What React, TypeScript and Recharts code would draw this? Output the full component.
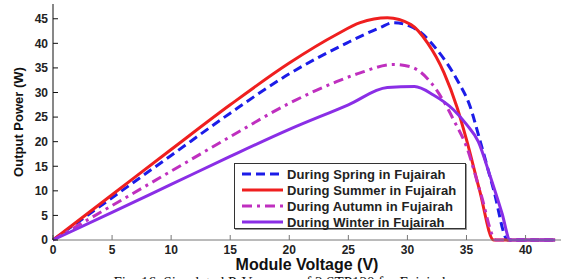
import React from "react";
import { LineChart, Line, XAxis, YAxis, Legend } from "recharts";

// P-V curves (V in volts, P in watts)
const seasons = [
  "During Spring in Fujairah",
  "During Summer in Fujairah",
  "During Autumn in Fujairah",
  "During Winter in Fujairah",
];

const springV = [0, 5, 10, 15, 20, 24.9, 27.7, 28.8, 30.5, 32.5, 34.2, 35.3, 36.1, 37.3, 38.5, 42.5];
const springP = [0, 8.6, 17.2, 25.8, 33.8, 40.1, 43.2, 44.2, 43.2, 38.7, 32.6, 27.2, 20.6, 10.2, 0, 0];

const summerV = [0, 5, 10, 15, 20, 24, 26, 28.3, 30.3, 31.7, 33.1, 34.2, 35.0, 36.1, 37.3, 42.5];
const summerP = [0, 9.2, 18.4, 27.5, 36, 41.8, 44.2, 45.2, 43.8, 40.1, 34, 27, 20.4, 10.2, 0, 0];

const autumnV = [0, 5, 10, 15, 20, 24, 26, 28.8, 30.3, 32, 33, 34, 35, 36.2, 37.5, 42.5];
const autumnP = [0, 7, 14, 21, 27.8, 32.2, 34, 35.7, 35.2, 32, 28.5, 24, 19, 9.5, 0, 0];

const winterV = [0, 5, 10, 15, 20, 25, 28.3, 30.6, 32.2, 33.9, 35, 36, 37, 38, 38.7, 42.5];
const winterP = [0, 5.6, 11.3, 17, 22.5, 27.5, 31, 31.2, 29.5, 26.5, 23.5, 20, 13, 5.5, 0, 0];

const xTicks = [0, 5, 10, 15, 20, 25, 30, 35, 40];
const yTicks = [0, 5, 10, 15, 20, 25, 30, 35, 40, 45];

const toPoints = (v: number[], p: number[]) => v.map((x, i) => ({ v: x, p: p[i] }));

const curves = [
  { name: seasons[0], data: toPoints(springV, springP), color: "#1c1ce8", dash: "9 5" },
  { name: seasons[1], data: toPoints(summerV, summerP), color: "#ef1f1f", dash: undefined },
  { name: seasons[2], data: toPoints(autumnV, autumnP), color: "#bf2fbf", dash: "10 5 3 5" },
  { name: seasons[3], data: toPoints(winterV, winterP), color: "#8a2ee6", dash: undefined },
];

const FONT = "'Liberation Sans', Arial, sans-serif";
const tickStyle = { fill: "#222", fontSize: 12, fontWeight: "bold", fontFamily: FONT };

function SeasonLegend() {
  return (
    <div
      style={{
        width: 232,
        height: 66,
        border: "1px solid #333",
        boxShadow: "1px 1px 0 #999",
        background: "#fff",
        boxSizing: "border-box",
        paddingTop: 2,
      }}
    >
      {curves.map((c) => (
        <div key={c.name} style={{ display: "flex", alignItems: "center", height: 16 }}>
          <svg width={52} height={6} style={{ display: "block" }}>
            <line
              x1={7}
              x2={48}
              y1={3}
              y2={3}
              stroke={c.color}
              strokeWidth={3}
              strokeDasharray={c.dash}
            />
          </svg>
          <span
            style={{
              fontFamily: FONT,
              fontWeight: "bold",
              fontSize: 13,
              letterSpacing: 0.1,
              color: "#222",
              whiteSpace: "nowrap",
            }}
          >
            {c.name}
          </span>
        </div>
      ))}
    </div>
  );
}

export default function App() {
  return (
    <div
      style={{
        position: "absolute",
        left: 0,
        top: 0,
        width: 563,
        height: 279,
        overflow: "hidden",
        background: "#fff",
      }}
    >
      <LineChart width={563} height={279} margin={{ top: 4, right: 2, left: 0, bottom: 0 }}>
        <XAxis
          dataKey="v"
          type="number"
          domain={[0, 43]}
          ticks={xTicks}
          interval={0}
          height={39}
          tickSize={-5}
          tickMargin={10}
          stroke="#777"
          tick={tickStyle}
          label={{
            value: "Module Voltage (V)",
            position: "insideBottom",
            offset: 9,
            style: { fontFamily: FONT, fontWeight: "bold", fontSize: 16, fill: "#111" },
          }}
        />
        <XAxis
          xAxisId="top"
          orientation="top"
          type="number"
          domain={[0, 43]}
          ticks={xTicks}
          height={0}
          tickSize={-5}
          tick={false}
          stroke="#888"
        />
        <YAxis
          type="number"
          domain={[0, 48]}
          ticks={yTicks}
          interval={0}
          width={53}
          tickSize={-5}
          tickMargin={10}
          stroke="#111"
          tick={tickStyle}
          label={{
            value: "Output Power (W)",
            angle: -90,
            position: "insideLeft",
            offset: 18,
            style: { textAnchor: "middle", fontFamily: FONT, fontWeight: "bold", fontSize: 13, fill: "#111" },
          }}
        />
        <YAxis
          yAxisId="right"
          orientation="right"
          type="number"
          domain={[0, 48]}
          ticks={yTicks}
          width={0}
          tickSize={-5}
          tick={false}
          stroke="#333"
        />
        <Legend
          layout="horizontal"
          verticalAlign="middle"
          content={() => <SeasonLegend />}
          wrapperStyle={{ position: "absolute", left: 234, top: 163, width: 232 }}
        />
        {curves.map((c) => (
          <Line
            key={c.name}
            name={c.name}
            data={c.data}
            dataKey="p"
            type="monotone"
            stroke={c.color}
            strokeWidth={3}
            strokeDasharray={c.dash}
            dot={false}
            isAnimationActive={false}
          />
        ))}
      </LineChart>
      <div
        style={{
          position: "absolute",
          left: 0,
          top: 275,
          width: 563,
          textAlign: "center",
          fontFamily: "'Liberation Serif', 'Times New Roman', serif",
          fontSize: 15,
          lineHeight: "15px",
          color: "#111",
          whiteSpace: "nowrap",
        }}
      >
        Fig. 16. Simulated P-V curves of 2 STP120 for Fujairah
      </div>
    </div>
  );
}
